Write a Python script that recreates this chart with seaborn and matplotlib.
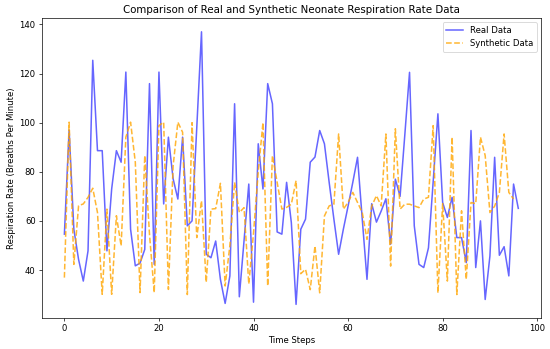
import numpy as np
import pandas as pd
import matplotlib
matplotlib.use("Agg")
import matplotlib.pyplot as plt
import seaborn as sns

real_values = [
    54.6, 97.0, 56.6, 44.3, 35.5, 47.8, 125.4, 88.6, 88.6, 47.8,
    73.0, 88.6, 83.9, 120.6, 56.6, 41.7, 42.8, 48.4, 115.9, 42.3,
    120.6, 66.9, 94.1, 77.1, 68.9, 94.1, 58.0, 60.0, 98.0, 137.0,
    46.4, 45.0, 51.8, 36.2, 26.4, 37.6, 107.7, 29.1, 52.0, 75.0,
    26.9, 91.4, 73.0, 115.9, 107.7, 55.5, 54.6, 75.7, 59.3, 26.0,
    56.6, 60.7, 83.9, 86.0, 96.8, 91.4, 75.7, 60.7, 46.4, 56.6,
    66.0, 75.7, 85.9, 60.7, 36.2, 67.0, 59.5, 64.0, 69.0, 50.5,
    77.0, 70.0, 95.0, 120.5, 58.0, 42.3, 41.0, 49.0, 76.0, 103.6,
    67.5, 61.4, 69.6, 53.2, 53.2, 43.0, 96.8, 41.0, 60.0, 28.0,
    45.7, 85.9, 46.0, 49.5, 37.6, 75.0, 65.1,
]

synthetic_values = [
    36.9, 100.2, 42.3, 66.2, 66.9, 69.6, 73.3, 63.4, 30.1, 64.8,
    30.1, 62.1, 49.8, 94.1, 100.2, 83.9, 30.8, 86.6, 54.6, 30.8,
    98.8, 100.2, 32.1, 82.5, 100.2, 96.1, 30.0, 100.0, 53.2, 68.2,
    35.0, 64.8, 65.0, 75.3, 33.5, 50.0, 75.7, 63.4, 65.4, 34.3,
    55.0, 80.0, 100.0, 33.5, 86.6, 75.7, 64.8, 65.5, 66.8, 76.4,
    38.5, 40.3, 32.0, 49.8, 30.7, 62.0, 66.1, 66.8, 95.4, 64.8,
    67.5, 71.6, 67.5, 63.4, 52.5, 66.0, 70.3, 66.1, 95.4, 41.6,
    97.5, 64.8, 66.8, 66.8, 66.1, 65.4, 68.9, 69.6, 98.8, 30.7,
    67.0, 35.5, 94.1, 30.0, 64.1, 36.2, 67.5, 67.0, 94.1, 86.6,
    63.4, 66.0, 71.6, 95.4, 71.6, 68.9,
]

real_steps = np.arange(len(real_values))
synthetic_steps = np.arange(len(synthetic_values))

title = "Comparison of Real and Synthetic Neonate Respiration Rate Data"
x_label = "Time Steps"
y_label = "Respiration Rate (Breaths Per Minute)"

plt.rcParams['font.family'] = ['DejaVu Sans']

DPI = 61.6
fig, ax = plt.subplots(figsize=(550 / DPI, 349 / DPI), dpi=DPI)
fig.subplots_adjust(left=0.0758, right=0.9836, bottom=0.0888, top=0.9479)

sns.lineplot(x=real_steps, y=real_values, ax=ax, color="blue", alpha=0.6,
             label="Real Data", linewidth=1.8)
sns.lineplot(x=synthetic_steps, y=synthetic_values, ax=ax, color="orange",
             alpha=0.8, linestyle="--", label="Synthetic Data", linewidth=1.8)

ax.set_title(title)
ax.set_xlabel(x_label)
ax.set_ylabel(y_label)
ax.legend(loc="upper right")

fig.savefig("out.png", dpi=DPI)
